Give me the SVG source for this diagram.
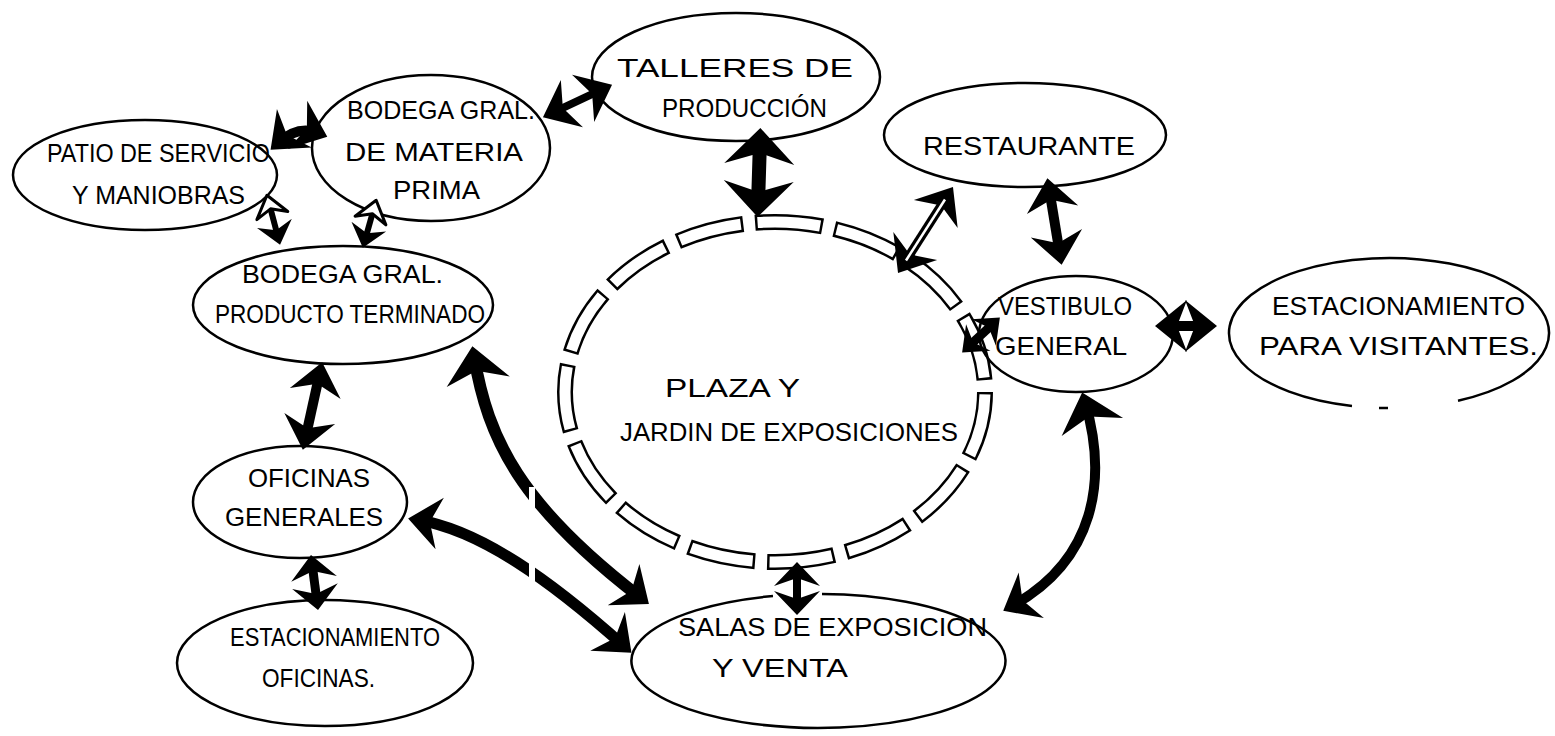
<svg xmlns="http://www.w3.org/2000/svg" width="1555" height="736" viewBox="0 0 1555 736">
<style>
.n{fill:none;stroke:#000;stroke-width:2.5}
.t{font-family:"Liberation Sans",Arial,sans-serif;font-size:25px;fill:#000}
.c{fill:none;stroke:#000;stroke-linecap:butt}
.w{fill:none;stroke:#fff;stroke-width:2.5}
.ring1{fill:none;stroke:#000;stroke-width:16;stroke-dasharray:85 15}
.ring2{fill:none;stroke:#fff;stroke-width:11;stroke-dasharray:78.8 21.2;stroke-dashoffset:-3.1}
</style>
<defs>
<marker id="hb" viewBox="-42 -40 46 80" markerWidth="46" markerHeight="80" refX="-12" refY="0" markerUnits="userSpaceOnUse" orient="auto-start-reverse">
<path d="M0,0 L-36,-35 L-25,0 L-36,35 Z" fill="#000"/>
</marker>
<marker id="hl" viewBox="-40 -36 42 72" markerWidth="42" markerHeight="72" refX="-10" refY="0" markerUnits="userSpaceOnUse" orient="auto-start-reverse">
<path d="M0,0 L-36,-32 L-25,0 L-36,32 Z" fill="#000"/>
</marker>
<marker id="hm" viewBox="-36 -30 38 60" markerWidth="38" markerHeight="60" refX="-10" refY="0" markerUnits="userSpaceOnUse" orient="auto-start-reverse">
<path d="M0,0 L-32,-26 L-22,0 L-32,26 Z" fill="#000"/>
</marker>
<marker id="hw" viewBox="-28 -26 30 52" markerWidth="30" markerHeight="52" refX="-8" refY="0" markerUnits="userSpaceOnUse" orient="auto-start-reverse">
<path d="M0,0 L-24,-23 L-16,0 L-24,23 Z" fill="#000"/>
</marker>
<marker id="hs" viewBox="-26 -20 28 40" markerWidth="28" markerHeight="40" refX="-8" refY="0" markerUnits="userSpaceOnUse" orient="auto-start-reverse">
<path d="M0,0 L-22,-18 L-15,0 L-22,18 Z" fill="#000"/>
</marker>
<marker id="hso" viewBox="-26 -20 28 40" markerWidth="28" markerHeight="40" refX="-8" refY="0" markerUnits="userSpaceOnUse" orient="auto-start-reverse">
<path d="M0,0 L-21,-16 L-14,0 L-21,16 Z" fill="#fff" stroke="#000" stroke-width="3" stroke-linejoin="round"/>
</marker>
</defs>
<rect width="1555" height="736" fill="#fff"/>

<g id="plaza">
<ellipse cx="775" cy="392" rx="210" ry="170" pathLength="1500" class="ring1"/>
<ellipse cx="775" cy="392" rx="210" ry="170" pathLength="1500" class="ring2"/>
<text class="t" x="665" y="397" textLength="135" lengthAdjust="spacingAndGlyphs">PLAZA Y</text>
<text class="t" x="620" y="441" textLength="338" lengthAdjust="spacingAndGlyphs">JARDIN DE EXPOSICIONES</text>
</g>
<g id="patio">
<ellipse cx="145" cy="175" rx="132" ry="55" class="n"/>
<text class="t" x="47" y="162" textLength="223" lengthAdjust="spacingAndGlyphs">PATIO DE SERVICIO</text>
<text class="t" x="72" y="204" textLength="173" lengthAdjust="spacingAndGlyphs">Y MANIOBRAS</text>
</g>
<g id="bodega-mp">
<ellipse cx="431" cy="148" rx="119" ry="73" class="n"/>
<text class="t" x="347" y="119" textLength="188" lengthAdjust="spacingAndGlyphs">BODEGA GRAL.</text>
<text class="t" x="345" y="161" textLength="178" lengthAdjust="spacingAndGlyphs">DE MATERIA</text>
<text class="t" x="393" y="199" textLength="87" lengthAdjust="spacingAndGlyphs">PRIMA</text>
</g>
<g id="talleres">
<ellipse cx="736" cy="77" rx="144" ry="64" class="n"/>
<text class="t" x="617" y="77" textLength="236" lengthAdjust="spacingAndGlyphs">TALLERES DE</text>
<text class="t" x="662" y="117" textLength="165" lengthAdjust="spacingAndGlyphs">PRODUCCIÓN</text>
</g>
<g id="restaurante">
<ellipse cx="1025" cy="135" rx="141" ry="52" class="n"/>
<text class="t" x="923" y="155" textLength="212" lengthAdjust="spacingAndGlyphs">RESTAURANTE</text>
</g>
<g id="vestibulo">
<ellipse cx="1076" cy="334" rx="97" ry="58" class="n"/>
<text class="t" x="998" y="315" textLength="134" lengthAdjust="spacingAndGlyphs">VESTIBULO</text>
<text class="t" x="995" y="355" textLength="132" lengthAdjust="spacingAndGlyphs">GENERAL</text>
</g>
<g id="est-visitantes">
<path class="n" d="M1458,400.7 A160,75 0 1 0 1352,406 M1379,408 L1388,408"/>
<text class="t" x="1272" y="315" textLength="253" lengthAdjust="spacingAndGlyphs">ESTACIONAMIENTO</text>
<text class="t" x="1259" y="355" textLength="279" lengthAdjust="spacingAndGlyphs">PARA VISITANTES.</text>
</g>
<g id="bodega-pt">
<ellipse cx="343" cy="305" rx="150" ry="59" class="n"/>
<text class="t" x="242" y="283" textLength="201" lengthAdjust="spacingAndGlyphs">BODEGA GRAL.</text>
<text class="t" x="215" y="323" textLength="270" lengthAdjust="spacingAndGlyphs">PRODUCTO TERMINADO</text>
</g>
<g id="oficinas">
<ellipse cx="300" cy="502" rx="107" ry="56" class="n"/>
<text class="t" x="248" y="487" textLength="122" lengthAdjust="spacingAndGlyphs">OFICINAS</text>
<text class="t" x="225" y="526" textLength="158" lengthAdjust="spacingAndGlyphs">GENERALES</text>
</g>
<g id="est-oficinas">
<ellipse cx="325" cy="663" rx="148" ry="63" class="n"/>
<text class="t" x="230" y="646" textLength="210" lengthAdjust="spacingAndGlyphs">ESTACIONAMIENTO</text>
<text class="t" x="262" y="687" textLength="113" lengthAdjust="spacingAndGlyphs">OFICINAS.</text>
</g>
<g id="salas">
<path class="n" d="M822,594 A187,67 0 1 1 773,596"/>
<text class="t" x="678" y="636" textLength="309" lengthAdjust="spacingAndGlyphs">SALAS DE EXPOSICION</text>
<text class="t" x="712" y="677" textLength="136" lengthAdjust="spacingAndGlyphs">Y VENTA</text>
</g>

<g id="connectors">
<path class="c" d="M278,143 Q298,125 318,133" stroke-width="10" marker-start="url(#hm)" marker-end="url(#hm)"/>
<path class="c" d="M552,113 L603,89" stroke-width="8" marker-start="url(#hm)" marker-end="url(#hm)"/>
<path class="c" d="M269,203 L278,237" stroke-width="6" marker-start="url(#hso)" marker-end="url(#hs)"/>
<path class="c" d="M374,208 L365,240" stroke-width="6" marker-start="url(#hso)" marker-end="url(#hs)"/>
<path class="c" d="M760,140 L758,205" stroke-width="14" marker-start="url(#hb)" marker-end="url(#hb)"/>
<path class="c" d="M947.6,195.4 L903.4,264.6" stroke-width="9" marker-start="url(#hm)" marker-end="url(#hm)"/>
<path class="w" d="M945,199.5 L906,260.5"/>
<path class="c" d="M1049,188 L1060,255" stroke-width="10" marker-start="url(#hm)" marker-end="url(#hm)"/>
<path class="c" d="M994,323 L968,347" stroke-width="9" marker-start="url(#hs)" marker-end="url(#hs)"/>
<path class="c" d="M1165,326 L1207,326" stroke-width="10" marker-start="url(#hm)" marker-end="url(#hm)"/>
<path class="c" d="M1085,402 C1108,480 1095,560 1012,606" stroke-width="10" marker-start="url(#hl)" marker-end="url(#hm)"/>
<path class="c" d="M320,372 L305,440" stroke-width="10" marker-start="url(#hm)" marker-end="url(#hm)"/>
<path class="c" d="M312,563 L317,602" stroke-width="9" marker-start="url(#hw)" marker-end="url(#hw)"/>
<path class="c" d="M474,356 C488,440 520,505 641,598" stroke-width="12" marker-start="url(#hl)" marker-end="url(#hm)"/>
<path class="c" d="M418,520 C480,530 550,580 624,646" stroke-width="11" marker-start="url(#hm)" marker-end="url(#hm)"/>
<path class="c" d="M797,570 L797,607" stroke-width="8" marker-start="url(#hw)" marker-end="url(#hw)"/>
<rect x="529" y="487" width="6" height="95" fill="#fff"/>
</g>
</svg>
